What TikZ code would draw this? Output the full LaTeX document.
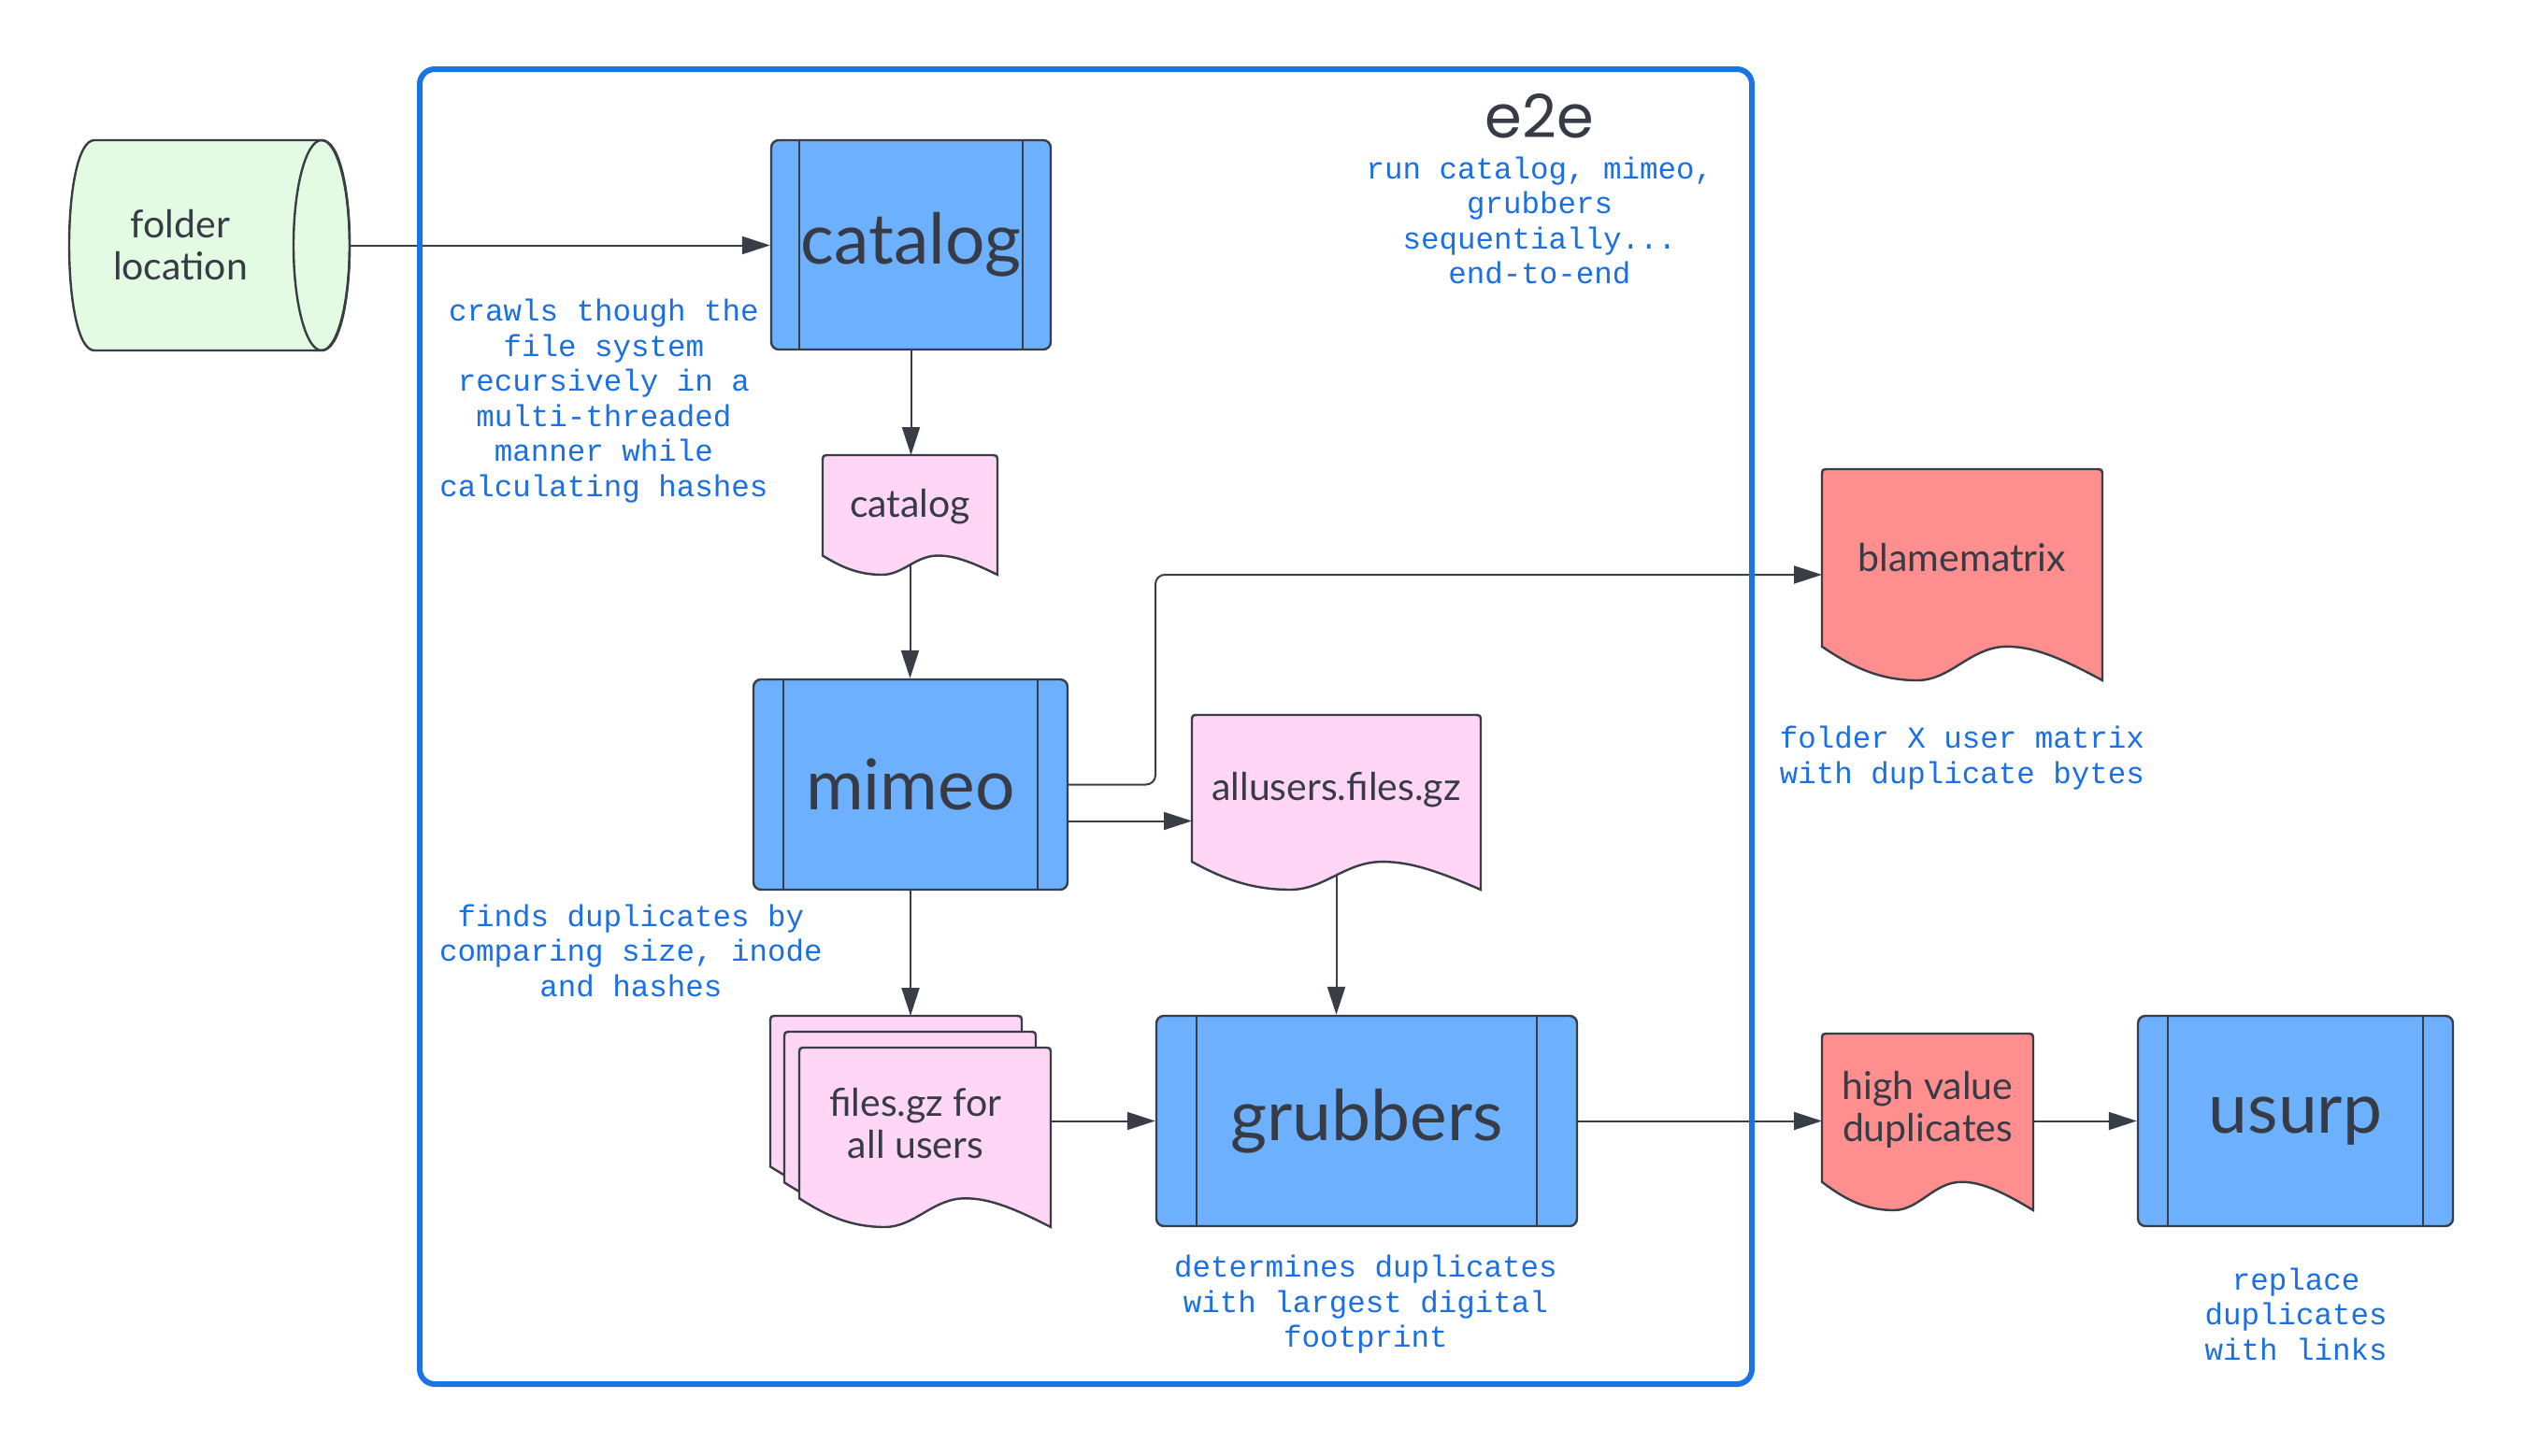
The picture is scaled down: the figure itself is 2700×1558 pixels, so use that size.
\documentclass[tikz,border=0pt]{standalone}
\usepackage{fontspec}
\setmainfont{Lato}
\newfontfamily\monof{Liberation Mono}
\newfontfamily\eefont{Poppins}
\usetikzlibrary{calc,arrows.meta}
\definecolor{strokec}{HTML}{383D46}
\definecolor{txtc}{HTML}{363B45}
\definecolor{notec}{HTML}{1A6FE4}
\definecolor{boxc}{HTML}{1B74E4}
\definecolor{procfill}{HTML}{6DB0FE}
\definecolor{pinkc}{HTML}{FFD6F6}
\definecolor{redc}{HTML}{FF8F8F}
\definecolor{greenc}{HTML}{E3FAE3}
\pgfdeclarelayer{back}
\pgfdeclarelayer{bg}
\pgfsetlayers{back,bg,main}
\tikzset{
  conn/.style={draw=strokec, line width=1pt, -{Triangle[length=15pt,width=9.5pt]}},
  procbox/.style={draw=strokec, fill=procfill, line width=1.2pt, rounded corners=4pt, inner sep=0pt, text=txtc, font=\fontsize{37.5}{40}\selectfont},
  barline/.style={draw=strokec, line width=1pt},
  docbox/.style={inner sep=0pt, outer sep=0pt, draw=none},
  docline/.style={draw=strokec, line width=1.2pt},
  doctext/.style={text=txtc, font=\fontsize{20.5}{22.5}\selectfont, align=center, inner sep=0pt},
  note/.style={text=notec, font=\monof\fontsize{16.25}{18.75}\selectfont, align=center, inner sep=0pt},
  container/.style={draw=boxc, line width=3pt, rounded corners=8pt, inner sep=0pt},
}
\newcommand\procbars[2]{%
  \draw[barline] ([xshift=#2]#1.north west) -- ([xshift=#2]#1.south west);
  \draw[barline] ([xshift=-#2]#1.north east) -- ([xshift=-#2]#1.south east);}
\newcommand\docshape[2]{%
  \path[docline, fill=#2] let \p1=(#1.north west), \p2=(#1.south east) in
  (\x1,{\y1-0.84*(\y1-\y2)}) -- (\x1,{\y1-4pt}) .. controls (\x1,\y1) .. ({\x1+4pt},\y1)
  -- ({\x2-4pt},\y1) .. controls (\x2,\y1) .. (\x2,{\y1-4pt}) -- (\x2,\y2)
  .. controls ({\x1+0.86*(\x2-\x1)},{\y2+0.10*(\y1-\y2)}) and ({\x1+0.76*(\x2-\x1)},{\y1-0.84*(\y1-\y2)}) .. ({\x1+0.66*(\x2-\x1)},{\y1-0.84*(\y1-\y2)})
  .. controls ({\x1+0.53*(\x2-\x1)},{\y1-0.84*(\y1-\y2)}) and ({\x1+0.46*(\x2-\x1)},\y2) .. ({\x1+0.34*(\x2-\x1)},\y2)
  .. controls ({\x1+0.2*(\x2-\x1)},\y2) and ({\x1+0.1*(\x2-\x1)},{\y2+0.07*(\y1-\y2)}) .. cycle;}
\begin{document}
\begin{tikzpicture}[x=0.5pt,y=-0.5pt]
\begin{pgfonlayer}{back}
\fill[white] (0,0) rectangle (2700,1558);
\end{pgfonlayer}
\useasboundingbox (0,0) rectangle (2700,1558);

% folder location cylinder
\node[docbox, minimum width=150pt, minimum height=112.5pt] (folder) at (224,262.5) {};
\filldraw[docline, fill=greenc] (101,150) -- (344,150) .. controls (384,150) and (384,375) .. (344,375) -- (101,375) .. controls (65,375) and (65,150) .. (101,150) -- cycle;
\draw[docline] (344,262.5) ellipse [x radius=30, y radius=112.5];
\node[doctext] (foldertxt) at (193,262.5) {folder\\location};

% catalog process
\node[procbox, minimum width=149.5pt, minimum height=112pt] (catalog) at (974.5,262) {catalog};
\procbars{catalog}{15.5pt}

% catalog document
\node[docbox, minimum width=93.5pt, minimum height=64pt] (catdoc) at (973.5,551) {};
\docshape{catdoc}{pinkc}
\node[doctext] (catdoctxt) at ($(catdoc.north)!0.43!(catdoc.south)$) {catalog};

% mimeo process
\node[procbox, minimum width=168pt, minimum height=112.5pt] (mimeo) at (974,839.5) {mimeo};
\procbars{mimeo}{16.5pt}

% allusers document
\node[docbox, minimum width=154.5pt, minimum height=93.5pt] (allusers) at (1429.5,858.5) {};
\docshape{allusers}{pinkc}
\node[doctext] (alluserstxt) at ($(allusers.north)!0.43!(allusers.south)$) {allusers.files.gz};

% blamematrix document
\node[docbox, minimum width=150pt, minimum height=113pt] (blame) at (2099,615) {};
\docshape{blame}{redc}
\node[doctext] (blametxt) at ($(blame.north)!0.42!(blame.south)$) {blamematrix};

% files stack
\node[docbox, minimum width=134.5pt, minimum height=96pt] (filesC) at (958.5,1183) {};
\docshape{filesC}{pinkc}
\node[docbox, minimum width=134.5pt, minimum height=96pt] (filesB) at (973.5,1200) {};
\docshape{filesB}{pinkc}
\node[docbox, minimum width=134.5pt, minimum height=96pt] (files) at (989.5,1217) {};
\docshape{files}{pinkc}
\node[doctext, xshift=-5pt] (filestxt) at ($(files.north)!0.42!(files.south)$) {files.gz for\\all users};

% grubbers process
\node[procbox, minimum width=225pt, minimum height=112.5pt] (grubbers) at (1462,1199.5) {grubbers};
\procbars{grubbers}{22pt}

% high value duplicates document
\node[docbox, minimum width=113pt, minimum height=94.5pt] (high) at (2062,1200.5) {};
\docshape{high}{redc}
\node[doctext] (hightxt) at ($(high.north)!0.43!(high.south)$) {high value\\duplicates};

% usurp process
\node[procbox, minimum width=168.5pt, minimum height=112.5pt] (usurp) at (2455.5,1199.5) {usurp};
\procbars{usurp}{16.5pt}

% notes
\node[note] (n1) at (646,429) {crawls though the\\file system\\recursively in a\\multi-threaded\\manner while\\calculating hashes};
\node[note] (n2) at (675,1017) {finds duplicates by\\comparing size, inode\\and hashes};
\node[note] (n3) at (1461,1396) {determines duplicates\\with largest digital\\footprint};
\node[note] (n4) at (2456,1406) {replace\\duplicates\\with links};
\node[note] (n5) at (2099,811) {folder X user matrix\\with duplicate bytes};
\node[font=\eefont\fontsize{32}{34}\selectfont, text=txtc, inner sep=0pt] (e2e) at (1647,124) {e2e};
\node[note] (n6) at (1647,236) {run catalog, mimeo,\\grubbers\\sequentially...\\end-to-end};

% e2e container
\node[container, minimum width=712.5pt, minimum height=703.5pt] (e2ebox) at (1161.5,777.5) {};

% connectors
\begin{pgfonlayer}{bg}
\draw[conn] (folder.east) -- (folder.east -| catalog.west);
\draw[conn] (catalog.south) -- (catalog.south |- catdoc.north);
\draw[conn] (catdoc.center) -- (catdoc.center |- mimeo.north);
\coordinate (bendA) at (1236,839.5);
\draw[conn, rounded corners=5pt] (mimeo.east) -- (bendA) |- (blame.west);
\coordinate (mA) at ($(mimeo.east)+(0,39)$);
\draw[conn] (mA) -- (mA -| allusers.west);
\draw[conn] (allusers.center) -- (allusers.center |- grubbers.north);
\draw[conn] (mimeo.south) -- (mimeo.south |- filesC.north);
\draw[conn] (grubbers.west -| files.east) -- (grubbers.west);
\draw[conn] (grubbers.east) -- (grubbers.east -| high.west);
\draw[conn] (high.east |- usurp.west) -- (usurp.west);
\end{pgfonlayer}
\end{tikzpicture}
\end{document}
